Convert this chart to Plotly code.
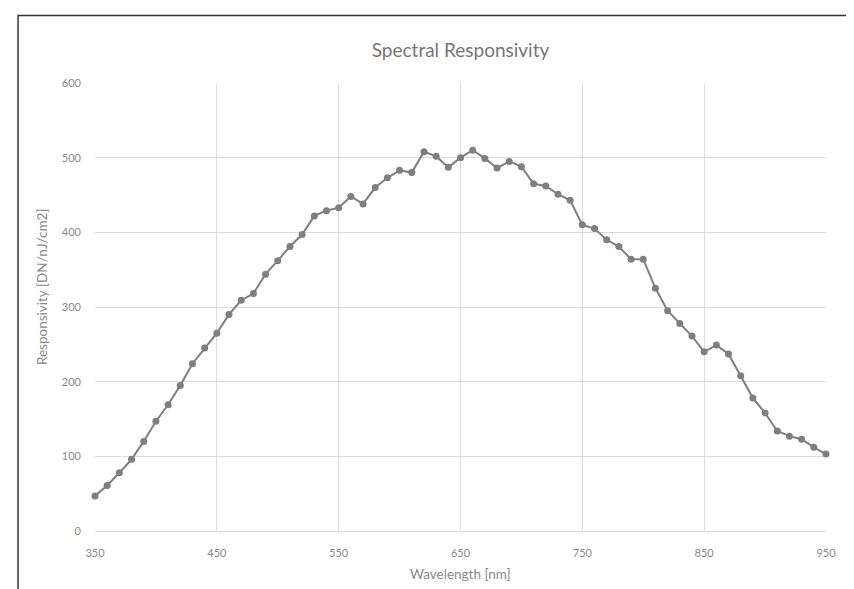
import plotly.graph_objects as go

wavelength_nm = list(range(350, 951, 10))
responsivity = [
    47, 61, 78, 96, 120, 147, 169, 195, 224, 245,
    265, 290, 309, 318, 344, 362, 381, 397, 422, 429,
    433, 448, 438, 460, 473, 483, 480, 508, 502, 487,
    500, 510, 499, 486, 495, 488, 465, 462, 451, 443,
    410, 405, 390, 381, 364, 364, 325, 295, 278, 261,
    240, 249, 237, 208, 178, 158, 134, 127, 123, 112,
    103,
]
x_ticks = [350, 450, 550, 650, 750, 850, 950]
y_ticks = [0, 100, 200, 300, 400, 500, 600]

W, H = 854, 589
L, R, T, B = 87, 818.5, 75, 523
pw, ph = R - L, B - T

def px(x):
    return (x - L) / pw

def py(y):
    return (B - y) / ph

font_family = "Lato, Open Sans, sans-serif"
label_color = "#8a8a8a"
grid_color = "#dcdcdc"

fig = go.Figure()
fig.add_trace(go.Scatter(
    x=wavelength_nm, y=responsivity, mode="lines+markers",
    line=dict(color="#7f7f7f", width=2),
    marker=dict(color="#7f7f7f", size=7),
    showlegend=False, cliponaxis=False,
))

fig.update_layout(
    width=W, height=H,
    margin=dict(l=L, r=W - R, t=T, b=H - B, autoexpand=False),
    paper_bgcolor="white", plot_bgcolor="white",
    font=dict(family=font_family, color=label_color, size=11),
    title=dict(text="Spectral Responsivity", x=0.5, xanchor="center",
               xref="paper", y=1 - 42 / H, yref="container", yanchor="middle",
               font=dict(size=19, color="#767676", family=font_family)),
    xaxis=dict(range=[350, 950], tickvals=x_ticks, ticktext=[str(v) for v in x_ticks],
               showgrid=True, gridcolor=grid_color, gridwidth=1,
               zeroline=False, showline=True, linecolor=grid_color, linewidth=1,
               ticks="", ticklabelstandoff=12, tickfont=dict(size=11, color=label_color)),
    yaxis=dict(range=[0, 600], tickvals=y_ticks, ticktext=[str(v) for v in y_ticks],
               showgrid=True, gridcolor=grid_color, gridwidth=1,
               zeroline=False, showline=False,
               ticks="", ticklabelstandoff=13, tickfont=dict(size=11, color=label_color)),
    annotations=[
        dict(text="Wavelength [nm]", x=0.5, xref="paper", y=py(566), yref="paper",
             xanchor="center", yanchor="middle", showarrow=False,
             font=dict(size=13.5, color=label_color, family=font_family)),
        dict(text="Responsivity [DN/nJ/cm2]", x=px(34), xref="paper", y=py(279), yref="paper",
             xanchor="center", yanchor="middle", showarrow=False, textangle=-90,
             font=dict(size=13.5, color=label_color, family=font_family)),
    ],
    shapes=[
        dict(type="rect", xref="paper", yref="paper",
             x0=px(10), x1=px(852), y0=py(600), y1=py(7.5),
             line=dict(color="#333333", width=1.5), fillcolor="rgba(0,0,0,0)", layer="below"),
    ],
)

fig.write_html("out.html")
